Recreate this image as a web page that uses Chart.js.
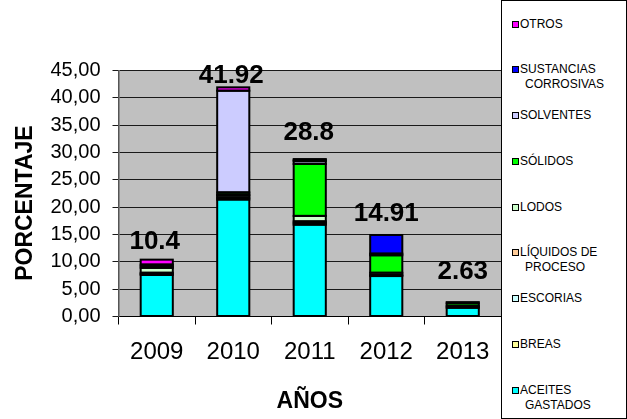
<!DOCTYPE html>
<html>
<head>
<meta charset="utf-8">
<script src="https://cdn.jsdelivr.net/npm/chart.js@4.4.1/dist/chart.umd.min.js"></script>
<style>
  html, body { margin: 0; padding: 0; background: #fff; }
  #wrap { position: relative; width: 627px; height: 419px; font-family: "Liberation Sans", Arial, sans-serif; }
  #c { position: absolute; left: 0; top: 0; }
  #legend { position: absolute; left: 501px; top: 0; width: 126px; height: 419px; box-sizing: border-box; border: 1px solid #000; background: #fff; }
  .item { position: absolute; left: 0; font-size: 12px; line-height: 15px; color: #000; white-space: nowrap; }
  .sw { position: absolute; left: 10px; top: 4px; width: 5px; height: 5px; border: 1.5px solid #000; }
  .txt { position: absolute; left: 18px; top: 0; }
  .txt span { display: block; }
  .txt span + span { padding-left: 5px; }
</style>
</head>
<body>
<div id="wrap">
  <canvas id="c" width="627" height="419"></canvas>
  <div id="legend"></div>
</div>
<script>
// ---- data ----
const categories = ['2009', '2010', '2011', '2012', '2013'];
const aceitesGastados = [7.6, 21.4, 16.8, 7.4, 1.6];
const breas = [0.2, 0.3, 0.3, 0.2, 0];
const escorias = [0.2, 0.4, 0.3, 0.4, 0.3];
const liquidosDeProceso = [0, 0, 0, 0, 0];
const lodos = [0.9, 0.2, 1.0, 0, 0];
const solidos = [0.3, 0.4, 9.5, 3.2, 0.5];
const solventes = [0.3, 18.6, 0.5, 0.3, 0];
const sustanciasCorrosivas = [0, 0, 0.2, 3.41, 0];
const otros = [0.9, 0.62, 0.2, 0, 0.23];
const totalLabels = ['10.4', '41.92', '28.8', '14.91', '2.63'];
const yTicks = [0, 5, 10, 15, 20, 25, 30, 35, 40, 45];

const seriesNames = [
  ['ACEITES', 'GASTADOS'], ['BREAS'], ['ESCORIAS'], ['LÍQUIDOS DE', 'PROCESO'],
  ['LODOS'], ['SÓLIDOS'], ['SOLVENTES'], ['SUSTANCIAS', 'CORROSIVAS'], ['OTROS']
];
const seriesValues = [aceitesGastados, breas, escorias, liquidosDeProceso, lodos, solidos, solventes, sustanciasCorrosivas, otros];
const seriesColors = ['#00FFFF', '#FFFF99', '#CCFFFF', '#FFCC99', '#CCFFCC', '#00FF00', '#CCCCFF', '#0000FF', '#FF00FF'];

const FONT = '"Liberation Sans", Arial, sans-serif';

const datasets = seriesValues.map((vals, i) => ({
  label: seriesNames[i].join(' '),
  data: vals.map(v => (v === 0 ? null : v)),
  backgroundColor: seriesColors[i],
  borderWidth: 0,
  barPercentage: 0.42,
  categoryPercentage: 1.0
}));

const plotBg = {
  id: 'plotBg',
  beforeDraw(chart) {
    const { ctx, chartArea: a } = chart;
    ctx.save();
    ctx.fillStyle = '#C0C0C0';
    ctx.fillRect(a.left, a.top, a.right - a.left, a.bottom - a.top);
    ctx.restore();
  }
};

// Excel-like outlines: stroke centred on each segment's edges
const outlines = {
  id: 'outlines',
  afterDatasetsDraw(chart) {
    const { ctx } = chart;
    ctx.save();
    ctx.strokeStyle = '#000';
    ctx.lineWidth = 2;
    chart.data.datasets.forEach((ds, d) => {
      chart.getDatasetMeta(d).data.forEach((el, j) => {
        if (ds.data[j] == null) return;
        const top = Math.min(el.y, el.base), h = Math.abs(el.base - el.y);
        ctx.strokeRect(el.x - el.width / 2, top, el.width, h);
      });
    });
    ctx.restore();
  }
};

const totalsPlugin = {
  id: 'totals',
  afterDatasetsDraw(chart, args, opts) {
    const { ctx } = chart;
    const n = chart.data.datasets.length;
    ctx.save();
    ctx.font = 'bold 26px ' + FONT;
    ctx.fillStyle = '#000';
    ctx.textAlign = 'center';
    ctx.textBaseline = 'alphabetic';
    chart.data.labels.forEach((lab, j) => {
      let topY = null, x = null;
      for (let d = n - 1; d >= 0; d--) {
        const el = chart.getDatasetMeta(d).data[j];
        const v = chart.data.datasets[d].data[j];
        if (el && v != null) { topY = el.y; x = el.x; break; }
      }
      if (topY == null) return;
      ctx.fillText(totalLabels[j], x + opts.dx[j], topY - opts.offsets[j]);
    });
    ctx.restore();
  }
};

const chart = new Chart(document.getElementById('c'), {
  type: 'bar',
  data: { labels: categories, datasets },
  plugins: [plotBg, outlines, totalsPlugin],
  options: {
    responsive: false,
    animation: false,
    devicePixelRatio: 1,
    layout: { padding: { top: 70.5, right: 126, bottom: 0, left: 0 } },
    plugins: {
      legend: { display: false },
      tooltip: { enabled: false },
      totals: { offsets: [11, 4, 19, 14, 23], dx: [-2, -2, -1, 0, 0] }
    },
    scales: {
      x: {
        stacked: true,
        afterFit(s) { s.height = 102.5; },
        grid: { display: true, drawOnChartArea: false, drawTicks: true, tickLength: 8, color: '#000', offset: true },
        border: { display: true, color: '#000', width: 1 },
        ticks: { color: '#000', font: { family: FONT, size: 24 }, padding: 13, maxRotation: 0 },
        title: { display: true, text: 'AÑOS', color: '#000', font: { family: FONT, size: 23, weight: 'bold' }, padding: { top: 0, bottom: 4 } }
      },
      y: {
        stacked: true,
        min: 0,
        max: 45,
        afterFit(s) { s.width = 118.5; },
        afterBuildTicks(s) { s.ticks = yTicks.map(v => ({ value: v })); },
        grid: { color: '#1a1a1a', lineWidth: 1, drawTicks: true, tickLength: 6 },
        border: { display: true, color: '#555', width: 1.5 },
        ticks: {
          color: '#000', font: { family: FONT, size: 20 }, padding: 12,
          callback: v => v.toFixed(2).replace('.', ',')
        },
        title: { display: true, text: 'PORCENTAJE   ', color: '#000', font: { family: FONT, size: 23, weight: 'bold' }, padding: { top: 12, bottom: 0 } }
      }
    }
  }
});

// ---- HTML legend (top to bottom = reverse stacking order) ----
const legend = document.getElementById('legend');
const order = seriesNames.map((_, i) => i).reverse();
order.forEach((si, k) => {
  const item = document.createElement('div');
  item.className = 'item';
  item.style.top = (24 + k * 45.75 - 7.5 - 1) + 'px';
  const sw = document.createElement('div');
  sw.className = 'sw';
  sw.style.background = seriesColors[si];
  const txt = document.createElement('div');
  txt.className = 'txt';
  seriesNames[si].forEach(line => {
    const sp = document.createElement('span');
    sp.textContent = line;
    txt.appendChild(sp);
  });
  item.appendChild(sw);
  item.appendChild(txt);
  legend.appendChild(item);
});
</script>
</body>
</html>
